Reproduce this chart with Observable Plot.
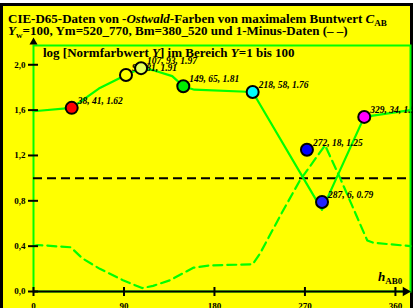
<!DOCTYPE html>
<html><head><meta charset="utf-8">
<script src="https://cdn.jsdelivr.net/npm/d3@7"></script>
<script src="https://cdn.jsdelivr.net/npm/@observablehq/plot@0.6"></script>
<style>
html,body{margin:0;padding:0;background:#fff;}
#wrap{position:relative;width:413px;height:308px;overflow:hidden;background:#fff;}
#bg{position:absolute;left:0;top:3px;width:407px;height:305px;background:#ffff00;border-left:3px solid #000;border-right:3px solid #000;border-top:3px solid #000;box-sizing:content-box;}
.t{position:absolute;font-family:"Liberation Serif",serif;font-weight:bold;color:#000;white-space:nowrap;line-height:1;}
.t sub{font-size:70%;vertical-align:-0.3em;line-height:0;}
#chart{position:absolute;left:0;top:0;}
</style></head>
<body>
<div id="wrap">
<div id="bg"></div>
<div id="chart"></div>
<div class="t" style="left:8px;top:12px;font-size:13px">CIE-D65-Daten von -<i>Ostwald</i>-Farben von maximalem Buntwert <i>C</i><sub>AB</sub></div>
<div class="t" style="left:8px;top:24px;font-size:13px"><i>Y</i><sub>w</sub>=100, Ym=520_770, Bm=380_520 und 1-Minus-Daten (– –)</div>
<div class="t" style="left:43px;top:45.5px;font-size:13px">log [Normfarbwert <i>Y</i>] im Bereich <i>Y</i>=1 bis 100</div>
<div class="t" style="left:378px;top:270px;font-size:13px"><i>h</i><sub style="font-size:9px">AB0</sub></div>
</div>
<script>
// Data
const xTicks = [0, 90, 180, 270, 360];
const yTicks = [0, 0.4, 0.8, 1.2, 1.6, 2.0];
const solidH = [0, 38, 65, 92, 107, 120, 138, 149, 160, 218, 287, 329, 375];
const solidY = [1.59, 1.62, 1.79, 1.91, 1.97, 1.95, 1.90, 1.81, 1.78, 1.76, 0.72, 1.54, 1.60];
const dashH = [0, 4, 37, 49, 66, 89, 108, 119, 136, 159, 176, 218, 225, 248, 265, 290, 305, 332, 338, 375];
const dashY = [0.40, 0.41, 0.39, 0.29, 0.20, 0.10, 0.03, 0.05, 0.10, 0.21, 0.23, 0.24, 0.33, 0.71, 0.98, 1.29, 1.00, 0.45, 0.43, 0.40];
const ptH = [38, 92, 107, 149, 218, 272, 287, 329];
const ptC = [41, 81, 93, 65, 58, 18, 6, 34];
const ptY = [1.62, 1.91, 1.97, 1.81, 1.76, 1.25, 0.79, 1.54];
const ptFill = ["#ff0000", "#ffff00", "#e4ff5a", "#00ee00", "#00ffff", "#0000ff", "#2222ff", "#ff00ff"];
const ptDashed = [true, false, false, false, false, true, true, true];
const refLevel = [1.0];
const axisEnds = {xEnd: 370, yEnd: 2.2};

const solid = solidH.map((h, i) => ({h, y: solidY[i]}));
const dashed = dashH.map((h, i) => ({h, y: dashY[i]}));
const pts = ptH.map((h, i) => ({h, c: ptC[i], y: ptY[i], fill: ptFill[i], dash: ptDashed[i] ? "3,2" : "none",
  label: `${h}, ${ptC[i]}, ${ptY[i].toFixed(2)}`}));

const fmt = d => d.toFixed(1).replace(".", ",");

const chart = Plot.plot({
  width: 413, height: 308,
  marginLeft: 33, marginRight: 3, marginTop: 45, marginBottom: 17,
  x: {domain: [0, 375]},
  y: {domain: [0, 2.17]},
  style: {background: "transparent", fontFamily: "Liberation Serif, serif", overflow: "visible"},
  marks: [
    Plot.frame({stroke: "#00ff00", strokeWidth: 2}),
    Plot.ruleY(refLevel, {stroke: "#000", strokeWidth: 2, strokeDasharray: "9,5"}),
    Plot.line(dashed, {x: "h", y: "y", stroke: "#00ff00", strokeWidth: 2.2, strokeDasharray: "9,5"}),
    Plot.line(solid, {x: "h", y: "y", stroke: "#00ff00", strokeWidth: 2.2}),
    Plot.ruleY([0], {x1: 0, x2: axisEnds.xEnd, stroke: "#000", strokeWidth: 2}),
    Plot.dot([{x: axisEnds.xEnd, y: 0}], {x: "x", y: "y", symbol: "triangle", rotate: 90, r: 3.5, fill: "#000"}),
    Plot.dot([{x: 0, y: axisEnds.yEnd}], {x: "x", y: "y", symbol: "triangle", r: 3, fill: "#000"}),
    Plot.axisX(xTicks, {tickSize: 9, dy: -4, strokeWidth: 2, stroke: "#000", tickFormat: () => "", label: null}),
    Plot.axisX(xTicks, {tickSize: 0, tickPadding: 11, fontSize: 9, fontWeight: "bold", fill: "#000", label: null}),
    Plot.axisY(yTicks, {tickSize: 10, dx: 5, strokeWidth: 2, stroke: "#000", tickFormat: () => "", label: null}),
    Plot.axisY(yTicks, {tickSize: 0, tickPadding: 8, fontSize: 9, fontWeight: "bold", tickFormat: fmt, fill: "#000", label: null}),
    Plot.text(pts, {x: "h", y: "y", text: "label", textAnchor: "start", dx: 6, dy: -7, fontSize: 9.5, fontWeight: "bold", fontStyle: "italic", fill: "#000"}),
    Plot.dot(pts, {x: "h", y: "y", r: 6, fill: "fill", stroke: "#000", strokeWidth: 2, strokeDasharray: "dash"})
  ]
});
document.getElementById("chart").appendChild(chart);
</script>
</body></html>
